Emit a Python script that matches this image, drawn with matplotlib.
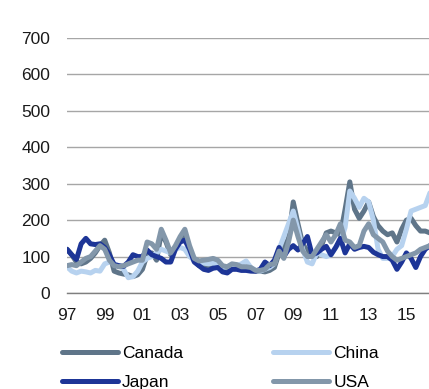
import numpy as np
import matplotlib
matplotlib.use('Agg')
import matplotlib.pyplot as plt

plt.rcParams['font.family'] = ['Liberation Sans', 'DejaVu Sans']

# Quarterly index values, Q1 1997 onwards
start_year = 1997
canada = [120, 105, 85, 80, 85, 95, 110, 130, 145, 110, 60, 55,
          52, 50, 45, 50, 65, 105, 110, 90, 165, 140, 105, 125,
          145, 160, 120, 88, 75, 72, 70, 75, 75, 60, 62, 68,
          72, 65, 65, 62, 60, 60, 58, 62, 70, 110, 125, 150,
          250, 190, 135, 115, 105, 100, 130, 165, 170, 165, 160, 230,
          305, 230, 205, 225, 250, 210, 185, 170, 160, 165, 140, 175,
          200, 205, 185, 170, 170, 165]
china = [72, 60, 55, 60, 58, 55, 62, 60, 80, 85, 80, 75,
         65, 42, 45, 60, 85, 95, 100, 110, 120, 115, 110, 120,
         125, 120, 100, 90, 85, 82, 80, 82, 78, 70, 72, 78,
         75, 80, 88, 70, 62, 60, 65, 70, 80, 120, 155, 190,
         225, 175, 120, 85, 80, 110, 105, 100, 105, 125, 140, 180,
         280, 260, 235, 260, 250, 200, 120, 95, 95, 100, 120, 130,
         175, 225, 230, 235, 240, 275]
japan = [120, 105, 92, 135, 150, 135, 133, 135, 125, 105, 78, 75,
         73, 85, 105, 100, 100, 118, 105, 100, 95, 85, 85, 120,
         140, 145, 120, 85, 75, 65, 62, 68, 70, 58, 55, 65,
         65, 62, 62, 60, 60, 65, 85, 75, 90, 125, 100, 120,
         130, 118, 135, 155, 105, 110, 120, 128, 105, 125, 150, 110,
         135, 120, 125, 128, 125, 112, 105, 100, 100, 90, 65, 85,
         110, 95, 70, 100, 120, 130]
usa = [75, 78, 75, 85, 95, 100, 115, 130, 120, 90, 75, 72,
       75, 80, 85, 90, 90, 140, 135, 120, 175, 145, 110, 130,
       155, 175, 130, 95, 88, 90, 92, 95, 90, 75, 72, 80,
       78, 72, 72, 70, 62, 62, 65, 78, 80, 115, 95, 140,
       200, 155, 115, 100, 100, 120, 140, 160, 140, 160, 190, 145,
       140, 125, 130, 170, 190, 160, 150, 140, 115, 100, 90, 95,
       100, 105, 110, 120, 125, 130]

series = [('Canada', canada, '#5f7589'),
          ('China', china, '#b7d2ef'),
          ('Japan', japan, '#1d3597'),
          ('USA', usa, '#8397aa')]

year_ticks = [1997, 1999, 2001, 2003, 2005, 2007, 2009, 2011, 2013, 2015]
year_labels = ['97', '99', '01', '03', '05', '07', '09', '11', '13', '15']
y_ticks = [0, 100, 200, 300, 400, 500, 600, 700]

fig = plt.figure(figsize=(4.29, 3.89), dpi=100)
ax = fig.add_axes([67 / 429, 1 - 293 / 389, 1 - 67 / 429, (293 - 38) / 389])

x = start_year + np.arange(len(canada)) / 4.0
lines = {}
for name, vals, col in series:
    ln, = ax.plot(x, vals, color=col, lw=3.6, solid_joinstyle='round',
                  solid_capstyle='round', label=name)
    lines[name] = ln

ax.set_xlim(1997, 2016.2)
ax.set_ylim(0, 700)
ax.set_yticks(y_ticks)
ax.set_xticks(year_ticks)
ax.set_xticklabels(year_labels)
ax.grid(axis='y', color='#a6a6a6', lw=1)
ax.set_axisbelow(True)
for s in ['top', 'right', 'left']:
    ax.spines[s].set_visible(False)
ax.spines['bottom'].set_color('#7f7f7f')
ax.spines['bottom'].set_linewidth(1)
ax.tick_params(length=0, labelsize=12.5, colors='#1a1a1a', pad=11)
ax.tick_params(axis='y', pad=12)

order = ['Canada', 'Japan', 'China', 'USA']
fig.legend([lines[n] for n in order], order, loc='upper left',
           bbox_to_anchor=(62 / 429, 1 - 346 / 389), ncol=2, frameon=False,
           fontsize=12.5, handlelength=3.2, handletextpad=0.25,
           columnspacing=5.2, labelspacing=0.8, borderpad=0, borderaxespad=0)

fig.savefig('out.png', dpi=100)
